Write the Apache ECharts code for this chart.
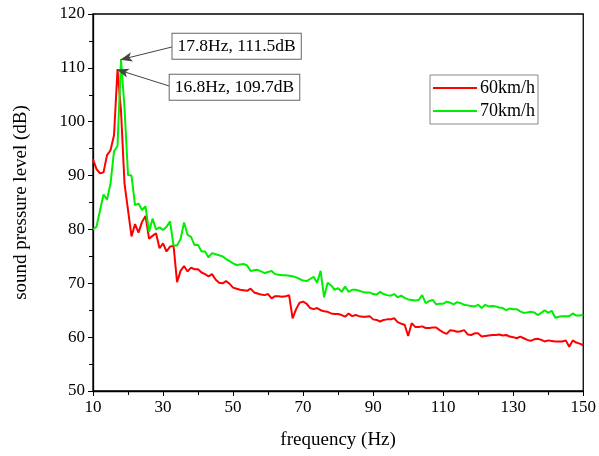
<!DOCTYPE html>
<html>
<head>
<meta charset="utf-8">
<script src="https://cdn.jsdelivr.net/npm/echarts@6/dist/echarts.min.js"></script>
<style>
html,body{margin:0;padding:0;background:#fff;}
#main{width:599px;height:456px;}
</style>
</head>
<body>
<div id="main"></div>
<script>
// 频率 10~150Hz, 1Hz 间隔
var freqStart = 10, freqEnd = 150;
// 60km/h 声压级 (dB)
var spl60 = [
	93.0,91.2,90.4,90.6,93.8,94.7,97.5,109.7,102.0,88.5,
	83.6,78.7,81.0,79.4,81.4,82.5,78.3,78.8,79.3,76.5,
	77.4,75.9,76.8,77.0,70.2,72.3,73.2,72.2,72.9,72.6,
	72.6,72.0,71.7,71.3,71.7,70.7,70.1,70.0,70.4,69.9,
	69.2,69.0,68.8,68.7,68.6,69.0,68.3,68.1,67.9,67.8,
	68.0,67.2,67.6,67.6,67.5,67.6,67.8,63.5,65.2,66.4,
	66.6,66.2,65.4,65.2,65.4,65.0,64.8,64.7,64.4,64.3,
	64.3,64.1,63.8,64.4,63.9,64.1,63.9,63.8,63.8,63.9,
	63.3,63.2,62.9,63.2,63.3,63.3,63.5,62.8,62.5,62.3,
	60.2,62.6,61.9,61.9,62.0,61.7,61.7,61.8,61.8,61.3,
	60.9,60.6,61.3,61.2,61.0,61.1,61.3,60.5,60.4,60.7,
	60.7,60.1,60.2,60.3,60.4,60.4,60.5,60.3,60.4,60.1,
	60.0,59.8,60.1,59.8,59.5,59.3,59.6,59.7,59.5,59.2,
	59.4,59.3,59.2,59.2,59.2,59.4,58.2,59.4,59.0,58.8,
	58.5
];
// 70km/h 声压级 (dB)
var spl70 = [
	80.0,80.5,83.5,86.5,85.5,88.5,94.5,95.5,111.5,102.5,
	90.1,90.0,84.5,84.8,83.6,84.3,79.5,82.0,80.0,80.4,
	79.9,80.5,81.5,77.0,77.0,78.2,81.3,79.0,78.6,77.1,
	77.1,75.9,75.9,74.8,75.6,75.4,75.2,75.0,74.5,74.1,
	73.7,73.4,73.5,73.6,73.3,72.3,72.4,72.5,72.2,71.9,
	72.1,72.3,71.7,71.6,71.5,71.5,71.4,71.3,71.1,70.8,
	70.5,70.4,70.8,71.2,70.1,72.3,67.4,70.1,69.6,68.8,
	69.1,68.4,69.4,68.4,68.8,68.8,68.6,68.4,68.3,68.3,
	68.0,67.9,68.4,68.0,67.8,67.7,68.0,67.4,67.7,67.3,
	67.0,66.9,66.8,66.9,67.8,66.3,66.7,66.9,66.1,66.2,
	66.2,66.6,66.4,66.1,66.5,66.3,66.0,65.9,65.8,65.7,
	66.0,65.4,66.0,65.7,65.8,65.7,65.5,65.4,65.0,65.3,
	65.2,65.2,64.8,64.5,64.6,64.7,64.6,64.1,64.5,65.0,
	64.5,64.9,63.6,63.8,63.9,63.9,63.9,64.4,64.0,64.0,
	64.2
];
var seriesNames = ['60km/h','70km/h'];
// 峰值标注
var peak60 = [16.8, 109.7];
var peak70 = [17.8, 111.5];
var xTicks = [10,30,50,70,90,110,130,150];
var yTicks = [50,60,70,80,90,100,110,120];

function pairUp(vals){
	var out = [];
	for(var i=0;i<vals.length;i++){
		out.push([freqStart+i, vals[i]]);
	}
	return out;
}

var fontFam = '"Liberation Serif","Times New Roman",serif';
var myChart = echarts.init(document.getElementById('main'));
var option = {
	backgroundColor: '#fff',
	animation: false,
	grid: {
		left: 93, right: 13, top: 14, bottom: 65,
		show: true, borderColor: '#000', borderWidth: 1.3
	},
	legend: {
		data: seriesNames,
		orient: 'vertical',
		left: 430, top: 75,
		borderColor: '#888', borderWidth: 1,
		padding: [4, 3, 4, 3],
		itemGap: 5,
		itemWidth: 44, itemHeight: 2,
		icon: 'rect',
		textStyle: {fontFamily: fontFam, fontSize: 18, color: '#000', padding: [0,0,0,-2]}
	},
	xAxis: {
		type: 'value',
		min: freqStart, max: freqEnd, interval: 20,
		name: 'frequency (Hz)',
		nameLocation: 'middle', nameGap: 40,
		nameTextStyle: {fontFamily: fontFam, fontSize: 19, color: '#000'},
		axisLine: {lineStyle: {color: '#000', width: 1.3}},
		axisTick: {show: true, length: 5, lineStyle: {color: '#000'}},
		minorTick: {show: true, splitNumber: 2, length: 4, lineStyle: {color: '#000'}},
		splitLine: {show: false},
		axisLabel: {
			fontFamily: fontFam, fontSize: 17, color: '#000', margin: 8,
			formatter: function(v){ return xTicks.indexOf(v) > -1 ? v : ''; }
		}
	},
	yAxis: {
		type: 'value',
		min: 50, max: 120, interval: 10,
		name: 'sound pressure level (dB)',
		nameLocation: 'middle', nameGap: 62,
		nameTextStyle: {fontFamily: fontFam, fontSize: 19, color: '#000'},
		axisLine: {show: true, lineStyle: {color: '#000', width: 1.3}},
		axisTick: {show: true, length: 5, lineStyle: {color: '#000'}},
		minorTick: {show: true, splitNumber: 2, length: 4, lineStyle: {color: '#000'}},
		splitLine: {show: false},
		axisLabel: {
			fontFamily: fontFam, fontSize: 17, color: '#000', margin: 8,
			formatter: function(v){ return yTicks.indexOf(v) > -1 ? v : ''; }
		}
	},
	series: [
		{
			name: seriesNames[0],
			type: 'line',
			data: pairUp(spl60),
			showSymbol: false,
			lineStyle: {color: '#ff0000', width: 2},
			itemStyle: {color: '#ff0000'},
			markLine: {
				silent: true,
				symbol: ['none', 'arrow'], symbolSize: [7, 12],
				lineStyle: {color: '#444', width: 1, type: 'solid'},
				label: {show: false},
				data: [[{coord: [31.9, 106.6]}, {coord: peak60}]]
			},
			markPoint: {
				silent: true,
				symbol: 'rect', symbolSize: 0,
				label: {
					show: true, position: 'right', distance: 0,
					fontFamily: fontFam, fontSize: 17.5, color: '#000',
					backgroundColor: '#fff', borderColor: '#666', borderWidth: 1,
					padding: [4, 5, 3, 5],
					formatter: peak60[0] + 'Hz, ' + peak60[1] + 'dB'
				},
				data: [{coord: [31.9, 106.4]}]
			}
		},
		{
			name: seriesNames[1],
			type: 'line',
			data: pairUp(spl70),
			showSymbol: false,
			lineStyle: {color: '#00ee00', width: 2},
			itemStyle: {color: '#00ee00'},
			markLine: {
				silent: true,
				symbol: ['none', 'arrow'], symbolSize: [7, 12],
				lineStyle: {color: '#444', width: 1, type: 'solid'},
				label: {show: false},
				data: [[{coord: [32.7, 113.9]}, {coord: peak70}]]
			},
			markPoint: {
				silent: true,
				symbol: 'rect', symbolSize: 0,
				label: {
					show: true, position: 'right', distance: 0,
					fontFamily: fontFam, fontSize: 17.5, color: '#000',
					backgroundColor: '#fff', borderColor: '#666', borderWidth: 1,
					padding: [4, 5, 3, 5],
					formatter: peak70[0] + 'Hz, ' + peak70[1] + 'dB'
				},
				data: [{coord: [32.7, 114.0]}]
			}
		}
	]
};
myChart.setOption(option);
</script>
</body>
</html>
